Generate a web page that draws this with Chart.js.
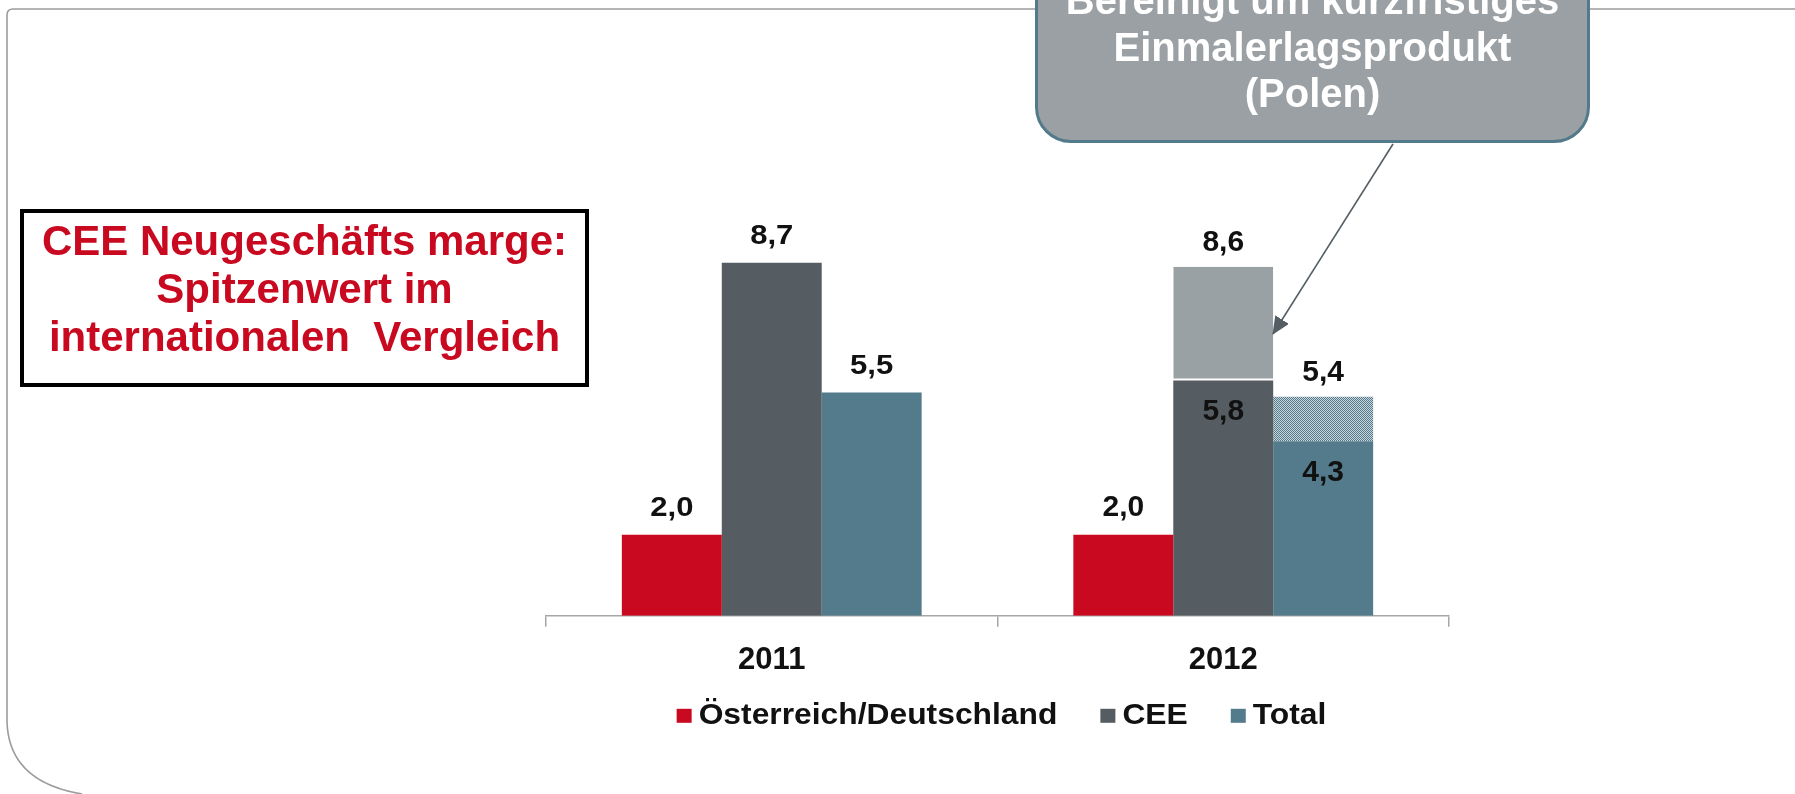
<!DOCTYPE html>
<html lang="de">
<head>
<meta charset="utf-8">
<title>Neugeschäftsmarge</title>
<script src="https://cdn.jsdelivr.net/npm/chart.js@4.4.1/dist/chart.umd.min.js"></script>
<style>
    html, body { margin: 0; padding: 0; background: #fff; }
    body { width: 1795px; height: 794px; position: relative; overflow: hidden; font-family: "Liberation Sans", Arial, sans-serif; }
    #chart { position: absolute; left: 0; top: 0; }
    #frame { position: absolute; left: 0; top: 0; }
    .box-left {
        position: absolute; left: 20px; top: 209px; width: 561px; height: 170px;
        border: 4px solid #000; background: #fff;
    }
    .box-left .txt {
        position: absolute; left: -40px; right: -40px; top: 4px;
        text-align: center; white-space: nowrap;
        color: #c8091f; font-weight: bold; font-size: 42px; line-height: 48px;
    }
    .callout {
        position: absolute; left: 1035px; top: -80px; width: 549px; height: 217px;
        border: 3px solid #537a8a; border-radius: 36px; background: #9aa0a3;
    }
    .callout .txt {
        position: absolute; left: -40px; right: -40px; top: 54px;
        text-align: center; white-space: nowrap;
        color: #fff; font-weight: bold; font-size: 40px; line-height: 46.7px;
    }
</style>
</head>
<body>
<canvas id="chart" width="1795" height="794"></canvas>

<svg id="frame" width="1795" height="794">
    <path d="M 1795 9 L 13 9 Q 7 9 7 15 L 7 722 Q 9 782 82 794" fill="none" stroke="#9c9c9c" stroke-width="1.6"/>
</svg>

<div class="box-left">
    <div class="txt">CEE Neugeschäfts marge:<br>Spitzenwert im<br>internationalen&nbsp; Vergleich</div>
</div>

<div class="callout">
    <div class="txt">Bereinigt um kurzfristiges<br>Einmalerlagsprodukt<br>(Polen)</div>
</div>

<svg id="arrow" width="1795" height="794" style="position:absolute; left:0; top:0;">
    <defs>
        <marker id="head" markerWidth="18" markerHeight="16" refX="17" refY="8" orient="auto" markerUnits="userSpaceOnUse">
            <path d="M 0 0 L 18 8 L 0 16 z" fill="#555e63"/>
        </marker>
    </defs>
    <line x1="1393" y1="144" x2="1273" y2="334" stroke="#555e63" stroke-width="1.6" marker-end="url(#head)"/>
</svg>

<script>
// Neugeschäftsmarge in %, je Jahr
const years = ['2011', '2012'];
const oeDe = [2.0, 2.0];          // Österreich/Deutschland
const cee = [8.7, 5.8];           // CEE (2012 bereinigt)
const ceeEinmal = [0, 2.8];       // Effekt Einmalerlagsprodukt Polen -> 8,6
const total = [5.5, 4.3];         // Total (2012 bereinigt)
const totalEinmal = [0, 1.1];     // Effekt Einmalerlagsprodukt Polen -> 5,4

const RED = '#c8091f';
const DARK = '#555d63';
const TEAL = '#537b8b';
const LIGHT = '#9aa1a4';
const FONT = '"Liberation Sans", Arial, sans-serif';

// fine checker pattern for the adjusted part of "Total"
function makeHatch() {
    const c = document.createElement('canvas');
    c.width = 2; c.height = 2;
    const g = c.getContext('2d');
    g.fillStyle = '#c9d5da';
    g.fillRect(0, 0, 2, 2);
    g.fillStyle = TEAL;
    g.fillRect(0, 0, 1, 1);
    g.fillRect(1, 1, 1, 1);
    return g.createPattern(c, 'repeat');
}

function fmt(v) {
    return v.toFixed(1).replace('.', ',');
}

// value labels: stack totals above the bar, lower part inside when a part sits on top
const valueLabels = {
    id: 'valueLabels',
    afterDatasetsDraw(chart) {
        const ctx = chart.ctx;
        const pairs = [[0, null], [1, 2], [3, 4]];
        ctx.save();
        ctx.fillStyle = '#111';
        ctx.textAlign = 'center';
        ctx.textBaseline = 'alphabetic';
        years.forEach((y, i) => {
            const size = i === 0 ? 27 : 30;
            const sx = i === 0 ? 1.15 : 1.0;
            ctx.font = 'bold ' + size + 'px ' + FONT;
            const put = (txt, x, yy) => {
                ctx.save();
                ctx.translate(x, yy);
                ctx.scale(sx, 1);
                ctx.fillText(txt, 0, 0);
                ctx.restore();
            };
            pairs.forEach(([b, e]) => {
                const baseVal = chart.data.datasets[b].data[i];
                const baseBar = chart.getDatasetMeta(b).data[i];
                const extraVal = e !== null ? chart.data.datasets[e].data[i] : 0;
                if (extraVal > 0) {
                    const extraBar = chart.getDatasetMeta(e).data[i];
                    put(fmt(baseVal), baseBar.x, baseBar.y + 40);
                    put(fmt(baseVal + extraVal), extraBar.x, extraBar.y - 16);
                } else {
                    put(fmt(baseVal), baseBar.x, baseBar.y - 19);
                }
            });
        });
        ctx.restore();
    }
};

// legend row under the axis: small square, then the series name
const legendRow = {
    id: 'legendRow',
    afterDraw(chart) {
        const ctx = chart.ctx;
        const area = chart.chartArea;
        const items = [0, 1, 3].map(k => chart.data.datasets[k]);
        const box = 15, gapText = 7, gapItem = 43, sx = 1.06;
        ctx.save();
        ctx.font = 'bold 30px ' + FONT;
        ctx.textBaseline = 'alphabetic';
        ctx.textAlign = 'left';
        const widths = items.map(d => box + gapText + ctx.measureText(d.label).width * sx);
        const totalW = widths.reduce((a, b) => a + b, 0) + gapItem * (items.length - 1);
        let x = (area.left + area.right) / 2 + 4 - totalW / 2;
        const yBase = area.bottom + 108;
        items.forEach((d, k) => {
            ctx.fillStyle = d.backgroundColor;
            ctx.fillRect(x, yBase - 15, box, box - 1);
            ctx.fillStyle = '#111';
            ctx.save();
            ctx.translate(x + box + gapText, yBase);
            ctx.scale(sx, 1);
            ctx.fillText(d.label, 0, 0);
            ctx.restore();
            x += widths[k] + gapItem;
        });
        ctx.restore();
    }
};

const chart = new Chart(document.getElementById('chart'), {
    type: 'bar',
    data: {
        labels: years,
        datasets: [
            { label: 'Österreich/Deutschland', data: oeDe, backgroundColor: RED, stack: 'a' },
            { label: 'CEE', data: cee, backgroundColor: DARK, stack: 'b' },
            { label: 'CEE Einmalerlag', data: ceeEinmal, backgroundColor: LIGHT, stack: 'b',
              borderColor: '#fff', borderWidth: { bottom: 2 }, borderSkipped: false },
            { label: 'Total', data: total, backgroundColor: TEAL, stack: 'c' },
            { label: 'Total Einmalerlag', data: totalEinmal, backgroundColor: makeHatch(), stack: 'c' }
        ]
    },
    options: {
        responsive: false,
        animation: false,
        devicePixelRatio: 1,
        layout: { padding: { left: 546, right: 346, top: 210, bottom: 100 } },
        datasets: { bar: { categoryPercentage: 0.664, barPercentage: 1.0 } },
        scales: {
            x: {
                stacked: true,
                grid: { display: true, drawOnChartArea: false, drawTicks: true, tickLength: 11, color: '#a6a6a6', lineWidth: 1.5 },
                border: { display: true, color: '#a6a6a6', width: 1.5 },
                ticks: { color: '#111', padding: 15, font: { family: FONT, size: 31, weight: 'bold' } }
            },
            y: {
                stacked: true,
                display: false,
                min: 0,
                max: 10
            }
        },
        plugins: {
            legend: { display: false },
            tooltip: { enabled: false }
        }
    },
    plugins: [valueLabels, legendRow]
});
</script>
</body>
</html>
